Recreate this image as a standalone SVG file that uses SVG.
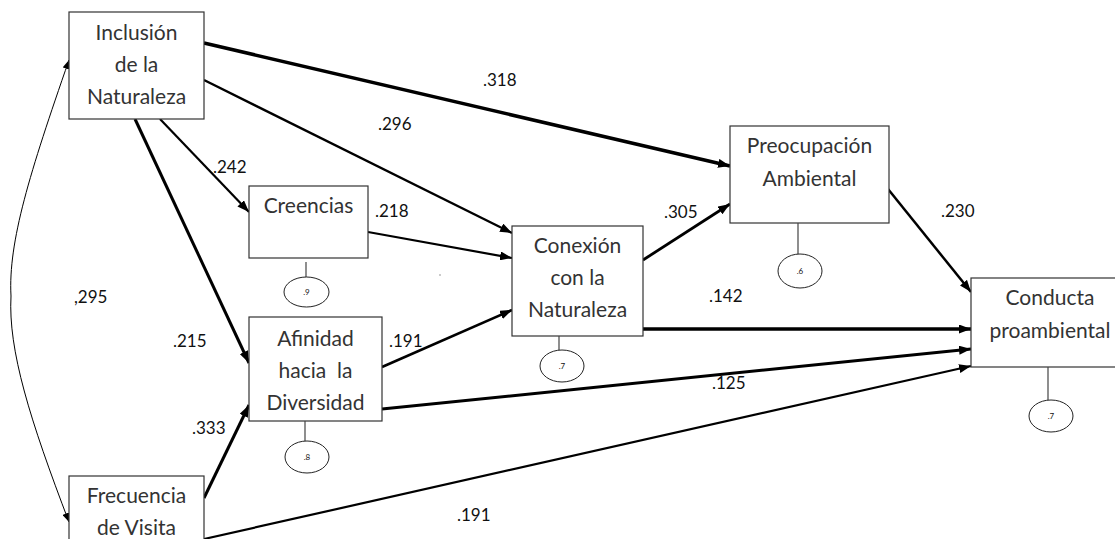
<svg xmlns="http://www.w3.org/2000/svg" width="1115" height="539" viewBox="0 0 1115 539">
  <style>
    .box { fill: #ffffff; stroke: #333333; stroke-width: 1.2; }
    .node-text { font-family: Lato, "Liberation Sans", sans-serif; font-size: 21px; fill: #333333; text-anchor: middle; }
    .coef { font-family: Lato, "Liberation Sans", sans-serif; font-size: 17px; fill: #111111; }
    .path { fill: none; stroke: #000000; stroke-linecap: butt; marker-end: url(#head); }
    .err-stem { stroke: #444444; stroke-width: 1.2; }
    .err { fill: #ffffff; stroke: #222222; stroke-width: 1; }
    .err-text { font-family: Lato, "Liberation Sans", sans-serif; font-size: 8px; fill: #111111; text-anchor: middle; }
  </style>
  <defs>
    <marker id="head" markerUnits="userSpaceOnUse" markerWidth="12" markerHeight="9" refX="12" refY="4.5" orient="auto">
      <path d="M0,0 L12,4.5 L0,9 Z" fill="#000000"/>
    </marker>
    <marker id="cov-head" markerUnits="userSpaceOnUse" markerWidth="9" markerHeight="7" refX="9" refY="3.5" orient="auto-start-reverse">
      <path d="M0,0 L9,3.5 L0,7 Z" fill="#000000"/>
    </marker>
  </defs>

  <rect width="1115" height="539" fill="#ffffff"/>

  <!-- structural paths -->
  <g id="connectors">
    <!-- covariance between the two exogenous variables -->
    <path d="M69,60 C30,172 8,242 11,296 C8,350 30,420 69,522" fill="none" stroke="#000000" stroke-width="1" marker-start="url(#cov-head)" marker-end="url(#cov-head)"/>
    <line class="path" x1="204" y1="43" x2="730" y2="166" stroke-width="3.5"/>
    <line class="path" x1="204" y1="80" x2="512" y2="233" stroke-width="2.4"/>
    <line class="path" x1="160" y1="119" x2="249" y2="212" stroke-width="2.2"/>
    <line class="path" x1="135" y1="119" x2="249" y2="363" stroke-width="3"/>
    <line class="path" x1="368" y1="232" x2="512" y2="258" stroke-width="2.2"/>
    <line class="path" x1="382" y1="367" x2="512" y2="310" stroke-width="2.6"/>
    <line class="path" x1="643" y1="260" x2="730" y2="204" stroke-width="2.8"/>
    <line class="path" x1="643" y1="329" x2="971" y2="329" stroke-width="3.6"/>
    <line class="path" x1="382" y1="409" x2="971" y2="349" stroke-width="3"/>
    <line class="path" x1="204" y1="539" x2="971" y2="366" stroke-width="2.2"/>
    <line class="path" x1="204" y1="498" x2="249" y2="405" stroke-width="3"/>
    <line class="path" x1="888" y1="189" x2="971" y2="292" stroke-width="2.5"/>

    <!-- coefficients -->
    <text class="coef" x="483" y="86">.318</text>
    <text class="coef" x="378" y="130">.296</text>
    <text class="coef" x="213" y="173">.242</text>
    <text class="coef" x="375" y="217">.218</text>
    <text class="coef" x="664" y="218">.305</text>
    <text class="coef" x="941" y="217">.230</text>
    <text class="coef" x="74" y="303">,295</text>
    <text class="coef" x="173" y="347">.215</text>
    <text class="coef" x="389" y="347">.191</text>
    <text class="coef" x="709" y="302">.142</text>
    <text class="coef" x="712" y="389">.125</text>
    <text class="coef" x="192" y="434">.333</text>
    <text class="coef" x="457" y="521">.191</text>
    <circle cx="440" cy="275" r="0.8" fill="#888888"/>
  </g>

  <g id="inclusion">
    <rect class="box" x="69" y="12" width="135" height="107"/>
    <text class="node-text" x="136.5" y="40">Inclusión</text>
    <text class="node-text" x="136.5" y="72">de la</text>
    <text class="node-text" x="136.5" y="104">Naturaleza</text>
  </g>

  <g id="creencias">
    <rect class="box" x="249" y="186" width="119" height="72"/>
    <text class="node-text" x="308.5" y="213">Creencias</text>
    <line class="err-stem" x1="306" y1="262" x2="306" y2="277"/>
    <ellipse class="err" cx="306.5" cy="292" rx="22.5" ry="15"/>
    <text class="err-text" x="306.5" y="295">.9</text>
  </g>

  <g id="afinidad">
    <rect class="box" x="249" y="317" width="133" height="104"/>
    <text class="node-text" x="315.5" y="346">Afinidad</text>
    <text class="node-text" x="315.5" y="378">hacia&#160; la</text>
    <text class="node-text" x="315.5" y="410">Diversidad</text>
    <line class="err-stem" x1="305" y1="421" x2="305" y2="441"/>
    <ellipse class="err" cx="307" cy="457" rx="22" ry="16"/>
    <text class="err-text" x="307" y="460">.8</text>
  </g>

  <g id="frecuencia">
    <rect class="box" x="69" y="476" width="135" height="90"/>
    <text class="node-text" x="136.5" y="503">Frecuencia</text>
    <text class="node-text" x="136.5" y="535">de Visita</text>
  </g>

  <g id="conexion">
    <rect class="box" x="512" y="226" width="131" height="110"/>
    <text class="node-text" x="577.5" y="253">Conexión</text>
    <text class="node-text" x="577.5" y="285">con la</text>
    <text class="node-text" x="577.5" y="317">Naturaleza</text>
    <line class="err-stem" x1="559" y1="336" x2="559" y2="350"/>
    <ellipse class="err" cx="562" cy="366" rx="22" ry="16"/>
    <text class="err-text" x="562" y="369">.7</text>
  </g>

  <g id="preocupacion">
    <rect class="box" x="730" y="126" width="159" height="97"/>
    <text class="node-text" x="809.5" y="153">Preocupación</text>
    <text class="node-text" x="809.5" y="186">Ambiental</text>
    <line class="err-stem" x1="798" y1="223" x2="798" y2="254"/>
    <ellipse class="err" cx="800" cy="271" rx="22" ry="17"/>
    <text class="err-text" x="800" y="274">.6</text>
  </g>

  <g id="conducta">
    <rect class="box" x="971" y="278" width="150" height="89"/>
    <text class="node-text" x="1050" y="305">Conducta</text>
    <text class="node-text" x="1050" y="338">proambiental</text>
    <line class="err-stem" x1="1048" y1="367" x2="1048" y2="400"/>
    <ellipse class="err" cx="1051" cy="416" rx="22" ry="16"/>
    <text class="err-text" x="1051" y="419">.7</text>
  </g>
</svg>
